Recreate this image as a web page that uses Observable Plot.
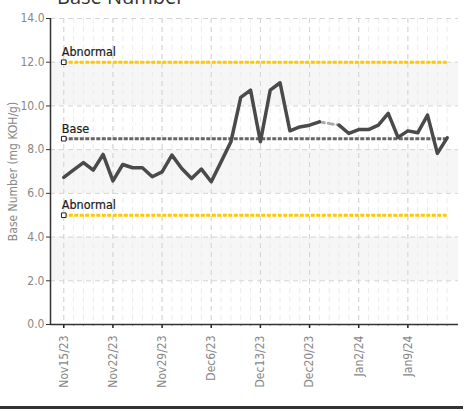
<!DOCTYPE html>
<html><head><meta charset="utf-8">
<script src="https://cdn.jsdelivr.net/npm/d3@7"></script>
<script src="https://cdn.jsdelivr.net/npm/@observablehq/plot@0.6"></script>
<style>
body{margin:0;background:#fff;overflow:hidden}
#wrap{position:relative;width:469px;height:411px;overflow:hidden}
#chart{position:absolute;left:0;top:0}
#title{position:absolute;left:57px;top:-13px;font:20px/20px "Open Sans",sans-serif;color:#333;white-space:nowrap}
#bottom{position:absolute;left:0;top:406px;width:463px;height:3px;background:#333}
</style></head><body>
<div id="wrap"><div id="chart"></div><div id="title">Base Number</div><div id="bottom"></div></div>
<script>
// Base number readings, one per sample (null = missing sample)
const values = [6.73, 7.07, 7.41, 7.06, 7.78, 6.57, 7.32, 7.17, 7.17, 6.76,
                6.98, 7.75, 7.14, 6.68, 7.11, 6.53, 7.44, 8.36, 10.39, 10.72,
                8.36, 10.72, 11.06, 8.86, 9.04, 9.12, 9.27, null, 9.12, 8.74,
                8.92, 8.92, 9.12, 9.66, 8.56, 8.86, 8.77, 9.58, 7.83, 8.54];
const tickLabels = ["Nov15/23","Nov22/23","Nov29/23","Dec6/23","Dec13/23","Dec20/23","Jan2/24","Jan9/24"];
const tickEvery = 5;
const limitNames = ["Abnormal","Base","Abnormal"];
const limitValues = [12, 8.5, 5];
const limitKinds = ["abnormal","base","abnormal"];
const yTicks = [0, 2, 4, 6, 8, 10, 12, 14];
const bandLo = [2, 6, 10];
const bandHi = [4, 8, 12];

const data = values.map((v, i) => ({i, v}));
const limits = limitNames.map((name, k) => ({name, value: limitValues[k], kind: limitKinds[k]}));
const bands = bandLo.map((lo, k) => ({lo, hi: bandHi[k]}));
const majorIdx = tickLabels.map((_, k) => k * tickEvery);
const allIdx = d3.range(values.length);
// gap segments bridging missing samples
const gaps = [];
values.forEach((v, i) => {
  if (v == null && i > 0 && i < values.length - 1) {
    gaps.push({i: i - 1, v: values[i - 1], g: i}, {i: i + 1, v: values[i + 1], g: i});
  }
});
const last = values.length - 1;
const xDomain = [-1.35, last + 1.15];

const chart = Plot.plot({
  width: 469, height: 411,
  marginLeft: 50, marginRight: 11, marginTop: 18, marginBottom: 87,
  style: {fontFamily: '"DejaVu Sans Condensed","DejaVu Sans",sans-serif', fontSize: "12px", color: "#888", background: "transparent"},
  x: {type: "linear", domain: xDomain},
  y: {domain: [0, 14]},
  marks: [
    Plot.rectY(bands, {x1: xDomain[0], x2: xDomain[1], y1: "lo", y2: "hi", fill: "#f6f6f6"}),
    Plot.gridX(allIdx, {stroke: "#ececec", strokeOpacity: 1, strokeDasharray: "5,4"}),
    Plot.gridX(majorIdx, {stroke: "#d4d4d4", strokeOpacity: 1, strokeDasharray: "5,4"}),
    Plot.gridY(yTicks, {stroke: "#d4d4d4", strokeOpacity: 1, strokeDasharray: "5,4"}),
    Plot.axisY({ticks: yTicks, tickFormat: d => d.toFixed(1), tickSize: 4, tickPadding: 2, stroke: "#333", fill: "#888",
      label: "Base Number (mg KOH/g)", labelAnchor: "center", labelArrow: "none", labelOffset: 42}),
    Plot.axisX({ticks: allIdx, tickFormat: null, tickSize: 2, stroke: "#aaa", text: null, label: null}),
    Plot.axisX({ticks: majorIdx, tickFormat: (d, k) => tickLabels[k], tickRotate: -90, tickSize: 4, tickPadding: 7,
      stroke: "#222", strokeWidth: 1.5, fill: "#888", label: null}),
    Plot.ruleX([xDomain[0]], {stroke: "#333", strokeWidth: 1.5}),
    Plot.ruleY([0], {stroke: "#333", strokeWidth: 1.5}),
    Plot.ruleY(limits, {y: "value", x1: 0, x2: last,
      stroke: d => d.kind === "base" ? "#666" : "#ffc800", strokeWidth: 3, strokeDasharray: "4,1.5"}),
    Plot.line(gaps, {x: "i", y: "v", z: "g", stroke: "#aaa", strokeWidth: 3, strokeDasharray: "5,4"}),
    Plot.line(data, {x: "i", y: "v", stroke: "#4a4a4a", strokeWidth: 3.5, strokeLinejoin: "round"}),
    Plot.dot(limits, {x: 0, y: "value", symbol: "square", r: 2.6, fill: "white", stroke: "#222", strokeWidth: 1}),
    Plot.text(limits, {x: 0, y: "value", text: "name", textAnchor: "start", dx: -2, dy: -10, fill: "#1a1a1a", fontSize: 12.5, stroke: "#1a1a1a", strokeWidth: 0.2})
  ]
});
document.getElementById("chart").appendChild(chart);
</script>
</body></html>
